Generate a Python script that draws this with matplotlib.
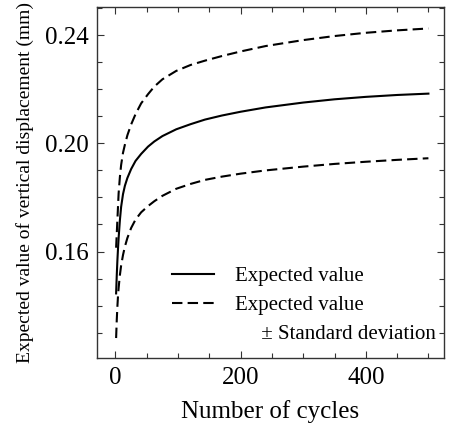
import matplotlib
matplotlib.use("Agg")
import matplotlib.pyplot as plt
from matplotlib.lines import Line2D
from matplotlib.ticker import MultipleLocator, FormatStrFormatter

plt.rcParams['font.family'] = ['Liberation Serif', 'DejaVu Serif']

cycles = [1, 2, 3, 4, 5, 7, 9, 12, 15, 19, 25, 32, 41, 52, 62, 75, 97, 120,
          143, 170, 200, 240, 300, 350, 400, 450, 500]
mean_vals = [0.1445, 0.1510, 0.1565, 0.1610, 0.1650, 0.1715, 0.1765, 0.1812,
             0.1843, 0.1872, 0.1905, 0.1935, 0.1961, 0.1988, 0.2007, 0.2027,
             0.2052, 0.2071, 0.2088, 0.2103, 0.2117, 0.2133, 0.2151, 0.2163,
             0.2172, 0.2179, 0.2184]
upper_vals = [0.1614, 0.1665, 0.1715, 0.1765, 0.1815, 0.1875, 0.1920, 0.1965,
              0.1995, 0.2030, 0.2070, 0.2108, 0.2148, 0.2182, 0.2210, 0.2237,
              0.2268, 0.2290, 0.2306, 0.2323, 0.2340, 0.2360, 0.2382, 0.2397,
              0.2409, 0.2418, 0.2425]
lower_vals = [0.1280, 0.1345, 0.1395, 0.1435, 0.1465, 0.1512, 0.1548, 0.1587,
              0.1618, 0.1650, 0.1687, 0.1718, 0.1745, 0.1768, 0.1786, 0.1806,
              0.1832, 0.1850, 0.1865, 0.1877, 0.1888, 0.1900, 0.1914, 0.1924,
              0.1932, 0.1939, 0.1945]

fig = plt.figure(figsize=(4.49, 4.34), dpi=100)
ax = fig.add_axes([0.2154, 0.1744, 0.7736, 0.8086])

dash = (0, (5, 2.5))
ax.plot(cycles, mean_vals, color='black', lw=1.5)
ax.plot(cycles, upper_vals, color='black', lw=1.5, linestyle=dash)
ax.plot(cycles, lower_vals, color='black', lw=1.5, linestyle=dash)

ax.set_xlim(-30, 525)
ax.set_ylim(0.1205, 0.2503)
ax.xaxis.set_major_locator(MultipleLocator(200))
ax.xaxis.set_minor_locator(MultipleLocator(50))
ax.yaxis.set_major_locator(MultipleLocator(0.04))
ax.yaxis.set_minor_locator(MultipleLocator(0.01))
ax.yaxis.set_major_formatter(FormatStrFormatter('%.2f'))

ax.tick_params(which='both', direction='in', top=True, right=True, width=0.8,
               color='#333333')
ax.tick_params(which='major', length=5, labelsize=18, pad=6)
ax.tick_params(which='minor', length=3.5)
for s in ax.spines.values():
    s.set_linewidth(1.0)
    s.set_color('#333333')

ax.set_xlabel('Number of cycles', fontsize=18, labelpad=8)
ax.set_ylabel('Expected value of vertical displacement (mm)', fontsize=14, labelpad=8)

handles = [Line2D([], [], color='black', lw=1.5),
           Line2D([], [], color='black', lw=1.5, linestyle=dash),
           Line2D([], [], color='none', lw=0)]
labels = ['Expected value', 'Expected value', '     \u00b1 Standard deviation']
ax.legend(handles, labels, loc='lower right', frameon=False, fontsize=15,
          handlelength=2.0, handletextpad=1.0, labelspacing=0.45,
          borderaxespad=0.0, bbox_to_anchor=(1.0, 0.017))

fig.savefig('out.png', dpi=100)
